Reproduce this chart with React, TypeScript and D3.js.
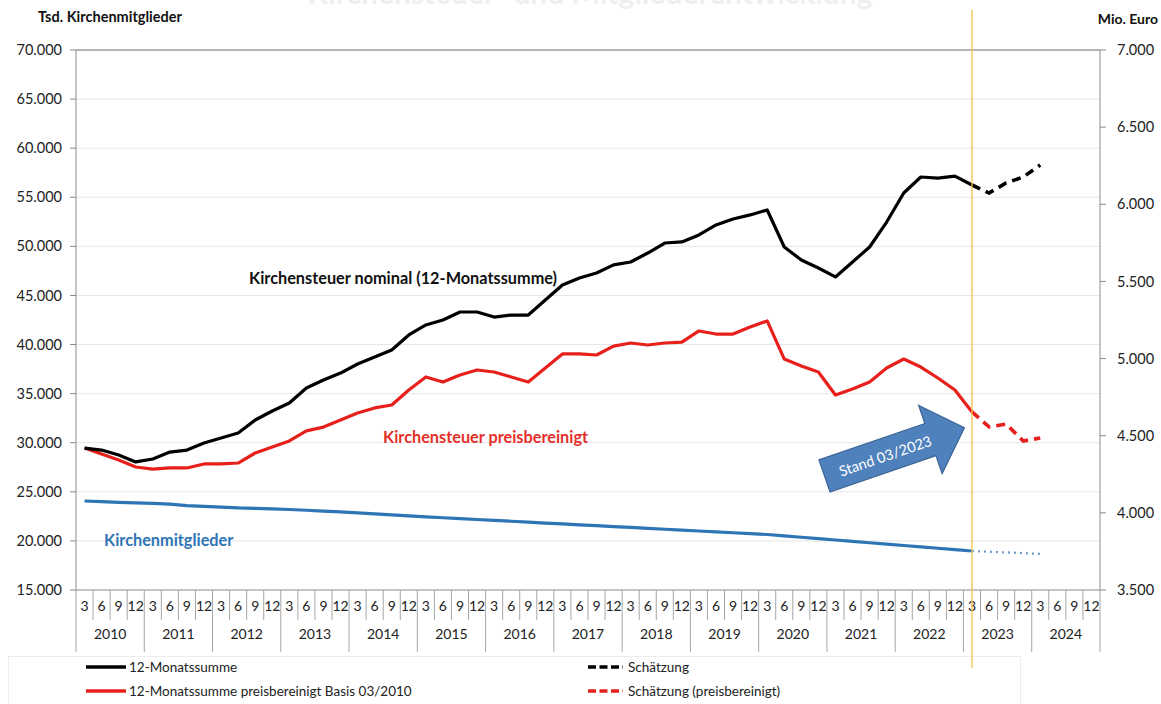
import React from "react";
import * as d3 from "d3";

// ---------- data ----------
const years = [2010, 2011, 2012, 2013, 2014, 2015, 2016, 2017, 2018, 2019, 2020, 2021, 2022, 2023, 2024];
const months = [3, 6, 9, 12];
const leftTicks = [15000, 20000, 25000, 30000, 35000, 40000, 45000, 50000, 55000, 60000, 65000, 70000];
const rightTicks = [3500, 4000, 4500, 5000, 5500, 6000, 6500, 7000];

// Kirchensteuer nominal, 12-Monatssumme (Mio. Euro), 03/2010 .. 03/2023
const nominal = [4420, 4407, 4375, 4330, 4349, 4394, 4407, 4453, 4485, 4518, 4602, 4660, 4712, 4809, 4861, 4906, 4965, 5010, 5056, 5153, 5218, 5250, 5302, 5302, 5269, 5282, 5282, 5380, 5477, 5522, 5555, 5607, 5626, 5684, 5749, 5756, 5801, 5866, 5905, 5931, 5963, 5723, 5639, 5587, 5529, 5626, 5723, 5885, 6073, 6177, 6170, 6183, 6125];
// Schätzung 03/2023 .. 03/2024
const nominalForecast = [6125, 6073, 6138, 6177, 6255];

// preisbereinigt Basis 03/2010
const real = [4420, 4381, 4343, 4297, 4284, 4291, 4291, 4317, 4317, 4323, 4388, 4427, 4466, 4531, 4556, 4602, 4647, 4680, 4699, 4796, 4881, 4848, 4894, 4926, 4913, 4881, 4848, 4939, 5030, 5030, 5023, 5081, 5101, 5088, 5101, 5107, 5179, 5159, 5159, 5205, 5244, 4997, 4952, 4913, 4764, 4803, 4848, 4939, 4997, 4945, 4874, 4796, 4654];
const realForecast = [4654, 4557, 4576, 4466, 4485];

// Kirchenmitglieder (Tsd.)
const members = [24065, 24000, 23930, 23880, 23830, 23740, 23600, 23520, 23450, 23360, 23320, 23270, 23200, 23120, 23040, 22960, 22860, 22760, 22650, 22540, 22450, 22360, 22270, 22180, 22090, 22000, 21910, 21820, 21730, 21640, 21550, 21460, 21370, 21280, 21190, 21100, 21010, 20920, 20830, 20740, 20650, 20510, 20370, 20230, 20090, 19950, 19810, 19670, 19530, 19390, 19250, 19110, 18970];
const membersForecast = [18970, 18900, 18830, 18760, 18670];

const forecastStart = 52; // index of 03/2023

// ---------- layout ----------
const W = 1161;
const H = 704;
const L = 76, R = 1100, T = 50, B = 590;
const FONT = "Lato, 'Open Sans', sans-serif";

const categories = years.flatMap((y) => months.map((m) => `${m}/${y}`));

const fmt = d3.formatLocale({ decimal: ",", thousands: ".", grouping: [3], currency: ["", "€"] }).format(",.0f");

export default function App() {
  const x = d3.scaleBand<string>().domain(categories).range([L, R]).padding(0);
  const cx = (i: number) => (x(categories[i]) as number) + x.bandwidth() / 2;
  const yL = d3.scaleLinear().domain([15000, 70000]).range([B, T]);
  const yR = d3.scaleLinear().domain([3500, 7000]).range([B, T]);

  const lineR = (offset: number) =>
    d3.line<number>().x((_, i) => cx(i + offset)).y((d) => yR(d));
  const lineL = (offset: number) =>
    d3.line<number>().x((_, i) => cx(i + offset)).y((d) => yL(d));

  const bw = x.bandwidth();

  // arrow geometry (local coords)
  const arrowPts: [number, number][] = [
    [0, -17], [112, -17], [112, -36], [148, 0], [112, 36], [112, 17], [0, 17],
  ];

  const orangeX = cx(forecastStart);

  return (
    <svg width={W} height={H} style={{ display: "block", position: "absolute", left: 0, top: 0, background: "#fff" }} fontFamily={FONT}>
      <rect x={0} y={0} width={W} height={H} fill="#fff" />
      {/* cut-off title (only its lower edge is visible in the original) */}
      <text x={590} y={4} textAnchor="middle" fontSize={30} fontWeight="bold" fill="#efefef">
        Kirchensteuer- und Mitgliederentwicklung
      </text>

      {/* gridlines */}
      {leftTicks.filter((t) => t !== 15000 && t !== 70000).map((t) => (
        <line key={t} x1={L} x2={R} y1={yL(t)} y2={yL(t)} stroke="#e6e6e6" strokeWidth={1} />
      ))}
      <line x1={L} x2={R} y1={yL(70000)} y2={yL(70000)} stroke="#6f6f6f" strokeWidth={1.2} />

      {/* left axis */}
      <line x1={L} x2={L} y1={T} y2={B} stroke="#8c8c8c" />
      {leftTicks.map((t) => (
        <g key={t}>
          <line x1={L - 6} x2={L} y1={yL(t)} y2={yL(t)} stroke="#8c8c8c" />
          <text x={L - 14} y={yL(t)} dy="0.35em" textAnchor="end" fontSize={14.5} fill="#222">{fmt(t)}</text>
        </g>
      ))}
      {/* right axis */}
      <line x1={R} x2={R} y1={T} y2={B} stroke="#8c8c8c" />
      {rightTicks.map((t) => (
        <g key={t}>
          <line x1={R} x2={R + 6} y1={yR(t)} y2={yR(t)} stroke="#8c8c8c" />
          <text x={R + 17} y={yR(t)} dy="0.35em" textAnchor="start" fontSize={14.5} fill="#222">{fmt(t)}</text>
        </g>
      ))}

      {/* x axis */}
      <line x1={L} x2={R} y1={B} y2={B} stroke="#8c8c8c" />
      {categories.map((c, i) => {
        const x0 = x(c) as number;
        const isYear = i % 4 === 0;
        return (
          <g key={c}>
            <line x1={x0} x2={x0} y1={B} y2={isYear ? 652 : 620} stroke="#a6a6a6" />
            <text x={x0 + bw / 2} y={606} dy="0.35em" textAnchor="middle" fontSize={14} fill="#222">{months[i % 4]}</text>
          </g>
        );
      })}
      <line x1={R} x2={R} y1={B} y2={652} stroke="#a6a6a6" />
      {years.map((y, j) => (
        <text key={y} x={cx(j * 4) - bw / 2 + bw * 2} y={634} dy="0.35em" textAnchor="middle" fontSize={14} fill="#222">{y}</text>
      ))}

      {/* axis titles */}
      <text x={38} y={22} fontSize={14.5} fontWeight="bold" fill="#111">Tsd. Kirchenmitglieder</text>
      <text x={1158} y={24} textAnchor="end" fontSize={14} fontWeight="bold" fill="#111">Mio. Euro</text>

      {/* series */}
      <path d={lineL(0)(members) ?? ""} fill="none" stroke="#2e75b6" strokeWidth={3.2} strokeLinejoin="round" />
      <path d={lineL(forecastStart)(membersForecast) ?? ""} fill="none" stroke="#5b8fcc" strokeWidth={2.2} strokeDasharray="1.8 4.2" />

      <path d={lineR(0)(real) ?? ""} fill="none" stroke="#e8201c" strokeWidth={3.2} strokeLinejoin="round" />
      <path d={lineR(forecastStart)(realForecast) ?? ""} fill="none" stroke="#e8201c" strokeWidth={3.6} strokeDasharray="9 6" />

      <path d={lineR(0)(nominal) ?? ""} fill="none" stroke="#000" strokeWidth={3.2} strokeLinejoin="round" />
      <path d={lineR(forecastStart)(nominalForecast) ?? ""} fill="none" stroke="#000" strokeWidth={3.6} strokeDasharray="9 6" />

      {/* in-chart labels */}
      <text x={249} y={284} fontSize={16.3} fontWeight="bold" fill="#111">Kirchensteuer nominal (12-Monatssumme)</text>
      <text x={383} y={443} fontSize={16.3} fontWeight="bold" fill="#e5302a">Kirchensteuer preisbereinigt</text>
      <text x={104} y={546} fontSize={16.3} fontWeight="bold" fill="#2e75b6">Kirchenmitglieder</text>

      {/* arrow */}
      <g transform={`translate(824.5,476) rotate(-19)`}>
        <polygon points={arrowPts.map((p) => p.join(",")).join(" ")} fill="#4f81bd" stroke="#3a6496" strokeWidth={1.2} />
        <text x={64} y={1} dy="0.35em" textAnchor="middle" fontSize={14.5} fill="#fff">Stand 03/2023</text>
      </g>

      {/* legend */}
      <rect x={8.5} y={656.5} width={1012} height={60} fill="#fff" stroke="#ececec" />
      <line x1={86} x2={126} y1={667} y2={667} stroke="#000" strokeWidth={3.5} />
      <text x={129} y={667} dy="0.35em" fontSize={13.5} fill="#222">12-Monatssumme</text>
      <line x1={86} x2={126} y1={691} y2={691} stroke="#e8201c" strokeWidth={3.5} />
      <text x={129} y={691} dy="0.35em" fontSize={13.5} fill="#222">12-Monatssumme preisbereinigt Basis 03/2010</text>
      <line x1={588} x2={623} y1={667} y2={667} stroke="#000" strokeWidth={3.5} strokeDasharray="8 3.5" />
      <text x={628} y={667} dy="0.35em" fontSize={13.5} fill="#222">Schätzung</text>
      <line x1={588} x2={623} y1={691} y2={691} stroke="#e8201c" strokeWidth={3.5} strokeDasharray="8 3.5" />
      <text x={628} y={691} dy="0.35em" fontSize={13.5} fill="#222">Schätzung (preisbereinigt)</text>

      {/* Stand line */}
      <line x1={orangeX} x2={orangeX} y1={10} y2={668} stroke="#f2c04a" strokeWidth={1.3} />
    </svg>
  );
}
